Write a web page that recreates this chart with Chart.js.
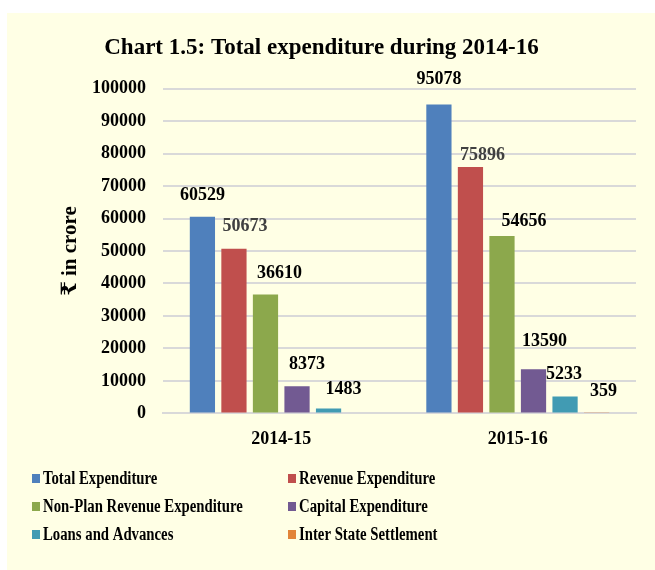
<!DOCTYPE html>
<html>
<head>
<meta charset="utf-8">
<script src="https://cdn.jsdelivr.net/npm/chart.js@4.4.1/dist/chart.umd.min.js"></script>
<style>
  html, body { margin: 0; padding: 0; background: #ffffff; }
  #wrap { position: relative; width: 655px; height: 570px; }
</style>
</head>
<body>
<div id="wrap"><canvas id="expChart" width="655" height="570"></canvas></div>
<script>
const years = ['2014-15', '2015-16'];
const seriesNames = ['Total Expenditure', 'Revenue Expenditure', 'Non-Plan Revenue Expenditure',
    'Capital Expenditure', 'Loans and Advances', 'Inter State Settlement'];
const totalExpenditure = [60529, 95078];
const revenueExpenditure = [50673, 75896];
const nonPlanRevenue = [36610, 54656];
const capitalExpenditure = [8373, 13590];
const loansAdvances = [1483, 5233];
const interStateSettlement = [0, 359];
const yMax = 100000;
const yStep = 10000;

const seriesValues = [totalExpenditure, revenueExpenditure, nonPlanRevenue,
    capitalExpenditure, loansAdvances, interStateSettlement];
const barColors = ['#4F80BC', '#C04F4D', '#8CA84C', '#725A92', '#419BB3', '#E28439'];
const labelColors = ['#000000', '#404040', '#000000', '#000000', '#000000', '#000000'];
// label nudges (dx, dy from bar top), Excel labels were dragged by hand
const labelNudge = [
    [[0, -21], [0, -25]],
    [[11, -22], [12, -12]],
    [[14, -21], [22, -15]],
    [[10, -22], [11, -28]],
    [[15, -19], [-1, -22]],
    [[0, -20], [7, -21]]
];

const serif = "'Liberation Serif', 'Times New Roman', 'DejaVu Serif', serif";

const backgroundPlugin = {
    id: 'panelBg',
    beforeDraw(chart) {
        const ctx = chart.ctx;
        ctx.save();
        ctx.fillStyle = '#FFFFE5';
        ctx.fillRect(7, 13, chart.width - 7, chart.height - 13);
        ctx.restore();
    }
};

const valueLabelPlugin = {
    id: 'valueLabels',
    afterDatasetsDraw(chart) {
        const ctx = chart.ctx;
        ctx.save();
        ctx.font = 'bold 18px ' + serif;
        ctx.textAlign = 'center';
        ctx.textBaseline = 'middle';
        chart.data.datasets.forEach(function (ds, i) {
            const meta = chart.getDatasetMeta(i);
            meta.data.forEach(function (bar, j) {
                const v = ds.data[j];
                if (!v) return;
                const n = labelNudge[i][j];
                ctx.fillStyle = labelColors[i];
                ctx.fillText(String(v), bar.x + n[0], bar.y + n[1]);
            });
        });
        ctx.restore();
    }
};

// legend in two columns; the source text is a bit condensed, so squeeze x
const legendPlugin = {
    id: 'twoColLegend',
    afterDraw(chart) {
        const ctx = chart.ctx;
        const colX = [32, 288];
        const rowY = [478, 506, 534];
        const squeeze = 0.82;
        chart.data.datasets.forEach(function (ds, i) {
            const x = colX[i % 2];
            const y = rowY[Math.floor(i / 2)];
            ctx.save();
            ctx.fillStyle = ds.backgroundColor;
            ctx.fillRect(x, y - 4, 8, 9);
            ctx.translate(x + 11, y + 1);
            ctx.scale(squeeze, 1);
            ctx.font = 'bold 18px ' + serif;
            ctx.textBaseline = 'middle';
            ctx.textAlign = 'left';
            ctx.fillStyle = '#000000';
            ctx.fillText(ds.label, 0, 0);
            ctx.restore();
        });
    }
};

const datasets = seriesNames.map(function (name, i) {
    return {
        label: name,
        data: seriesValues[i],
        backgroundColor: barColors[i],
        barPercentage: 0.8,
        categoryPercentage: 0.8
    };
});

const canvas = document.getElementById('expChart');
new Chart(canvas.getContext('2d'), {
    type: 'bar',
    data: { labels: years, datasets: datasets },
    options: {
        responsive: false,
        animation: false,
        layout: { padding: { left: 7, right: 19, top: 0, bottom: 105 } },
        plugins: {
            legend: { display: false },
            tooltip: { enabled: false },
            title: {
                display: true,
                text: 'Chart 1.5: Total expenditure during 2014-16',
                color: '#000000',
                font: { family: serif, size: 23, weight: 'bold' },
                padding: { top: 34, bottom: 27 }
            }
        },
        scales: {
            x: {
                grid: { display: false, drawTicks: false },
                border: { display: true, color: '#D9D9D9', width: 2 },
                ticks: {
                    color: '#000000',
                    padding: 15,
                    font: { family: serif, size: 18, weight: 'bold' }
                }
            },
            y: {
                min: 0,
                max: yMax,
                afterFit: function (scale) { scale.width = 156; },
                grid: { color: '#D9D9D9', lineWidth: 2, drawTicks: false },
                border: { display: false },
                ticks: {
                    stepSize: yStep,
                    color: '#000000',
                    padding: 17,
                    font: { family: serif, size: 18, weight: 'bold' },
                    callback: function (value) { return String(value); }
                },
                title: {
                    display: true,
                    text: '₹ in crore',
                    color: '#000000',
                    font: { family: serif, size: 21, weight: 'bold' },
                    padding: { top: 51, bottom: 0 }
                }
            }
        }
    },
    plugins: [backgroundPlugin, valueLabelPlugin, legendPlugin]
});
</script>
</body>
</html>
